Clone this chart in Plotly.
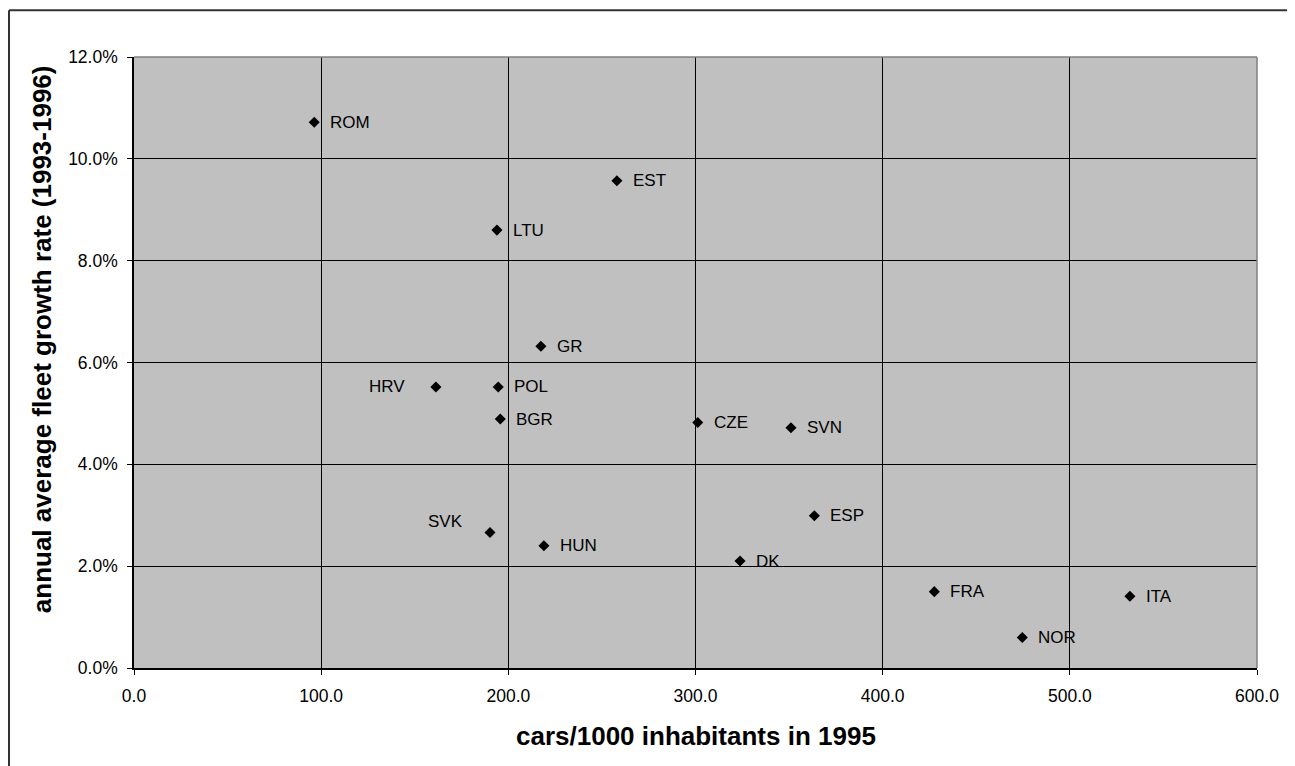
import plotly.graph_objects as go

countries = ['ROM', 'EST', 'LTU', 'GR', 'HRV', 'POL', 'BGR', 'CZE', 'SVN', 'ESP',
             'SVK', 'HUN', 'DK', 'FRA', 'NOR', 'ITA']
cars_per_1000 = [96.3, 258.0, 193.9, 217.4, 161.3, 194.6, 195.7, 301.2, 351.0, 363.5,
                 190.2, 219.0, 323.8, 427.6, 474.6, 532.1]
growth_pct = [10.72, 9.57, 8.60, 6.32, 5.52, 5.52, 4.89, 4.82, 4.72, 2.99,
              2.66, 2.40, 2.10, 1.50, 0.60, 1.41]

x_ticks = [0, 100, 200, 300, 400, 500, 600]
y_ticks = [0, 2, 4, 6, 8, 10, 12]

# labels sit right of the marker, except a couple placed on the left
label_style = {'HRV': dict(xanchor='right', xshift=-29, yshift=0),
               'SVK': dict(xanchor='right', xshift=-25, yshift=11)}
font = 'Liberation Sans, Arial, sans-serif'

fig = go.Figure()
fig.add_trace(go.Scatter(
    x=cars_per_1000, y=growth_pct, mode='markers',
    marker={'symbol': 'diamond', 'size': 8.5, 'color': 'black'},
    text=countries, hoverinfo='text+x+y', showlegend=False,
))

for name, cx, gy in zip(countries, cars_per_1000, growth_pct):
    style = label_style.get(name, dict(xanchor='left', xshift=14, yshift=0))
    fig.add_annotation(x=cx, y=gy, text=name, showarrow=False, yanchor='middle',
                       font={'family': font, 'size': 17, 'color': 'black'}, **style)

fig.add_annotation(xref='paper', yref='paper', x=0.5, y=-0.112, text='<b>cars/1000 inhabitants in 1995</b>',
                   showarrow=False, xanchor='center', yanchor='middle',
                   font={'family': font, 'size': 26, 'color': 'black'})
fig.add_annotation(xref='paper', yref='paper', x=-0.082, y=0.538,
                   text='<b>annual average fleet growth rate (1993-1996)</b>', textangle=-90,
                   showarrow=False, xanchor='center', yanchor='middle',
                   font={'family': font, 'size': 26, 'color': 'black'})

# outer chart border (left and top only are in view) and grey plot-area edges
fig.add_shape(type='line', xref='paper', yref='paper', x0=-0.1113, x1=-0.1113, y0=-0.4, y1=1.0764,
              line={'color': '#333333', 'width': 2})
fig.add_shape(type='line', xref='paper', yref='paper', x0=-0.1113, x1=1.2, y0=1.0764, y1=1.0764,
              line={'color': '#333333', 'width': 2})
fig.add_shape(type='line', xref='paper', yref='paper', x0=0, x1=1, y0=1, y1=1,
              line={'color': '#808080', 'width': 1.5})
fig.add_shape(type='line', xref='paper', yref='paper', x0=1, x1=1, y0=0, y1=1,
              line={'color': '#808080', 'width': 1.5})

# page body adds an 8px margin, so the figure is 8px smaller on each side
fig.update_layout(
    width=1287, height=758,
    margin={'l': 126, 'r': 38, 't': 49, 'b': 98},
    plot_bgcolor='#C0C0C0', paper_bgcolor='white',
    font={'family': font, 'size': 17.5, 'color': 'black'},
)
fig.update_xaxes(
    range=[0, 600], tickvals=x_ticks, ticktext=[f'{v:.1f}' for v in x_ticks],
    showgrid=True, gridcolor='black', gridwidth=1, zeroline=False,
    showline=True, linecolor='black', linewidth=1.5,
    ticks='outside', ticklen=5, tickcolor='black', ticklabelstandoff=6,
)
fig.update_yaxes(
    range=[0, 12], tickvals=y_ticks, ticktext=[f'{v:.1f}%' for v in y_ticks],
    showgrid=True, gridcolor='black', gridwidth=1, zeroline=False,
    showline=True, linecolor='black', linewidth=1.5,
    ticks='outside', ticklen=5, tickcolor='black', ticklabelstandoff=6,
)

fig.write_html('out.html')
